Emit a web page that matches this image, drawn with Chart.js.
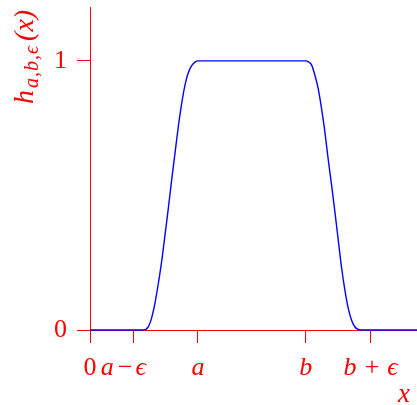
<!DOCTYPE html>
<html>
<head>
<meta charset="utf-8">
<script src="https://cdn.jsdelivr.net/npm/chart.js@4"></script>
<style>
  html, body { margin: 0; padding: 0; background: #fff; }
  #wrap { width: 417px; height: 405px; }
</style>
</head>
<body>
<div id="wrap"><canvas id="bump"></canvas></div>
<script>
// x positions in units where a = 1, b = 2, eps = 0.6
const xValues = [0, 0.40, 0.49, 0.54, 0.571, 0.602, 0.632, 0.664, 0.694, 0.725, 0.756, 0.787, 0.818,
  0.849, 0.880, 0.910, 0.942, 0.979, 1.0, 2.0, 2.021, 2.053, 2.083, 2.114, 2.145, 2.176, 2.206, 2.238,
  2.269, 2.300, 2.330, 2.361, 2.392, 2.422, 2.453, 2.484, 2.516, 3.03];
const hValues = [0, 0, 0, 0.012, 0.045, 0.10, 0.17, 0.255, 0.35, 0.45, 0.555, 0.655, 0.755,
  0.84, 0.91, 0.955, 0.982, 0.997, 1, 1, 0.997, 0.985, 0.948, 0.898, 0.824, 0.737, 0.638, 0.54,
  0.44, 0.335, 0.235, 0.15, 0.082, 0.038, 0.012, 0.002, 0, 0];

const xTickVals = [0, 0.4, 1, 2, 2.6];
// trailing spaces nudge "a - eps" left, away from the 0
const xTickLabels = ["0", "a\u200a\u2212\u200a\u03f5   ", "a", "b", "b + \u03f5"];
const yTickVals = [0, 1];
const yTickLabels = ["0", "1"];

const serif = "'Liberation Serif', 'DejaVu Serif', serif";

function tickFont(ctx) {
  const lbl = ctx.tick ? String(ctx.tick.label) : "";
  return { family: serif, size: 26, style: /^[0-9]$/.test(lbl) ? "normal" : "italic" };
}

// axis names drawn by hand so the subscript works
const axisNames = {
  id: "axisNames",
  afterDraw(chart) {
    const c = chart.ctx;
    c.save();
    c.fillStyle = "red";
    c.textBaseline = "alphabetic";
    c.textAlign = "left";

    c.font = "italic 27px " + serif;
    c.fillText("x", 398, 402);

    c.translate(33, 104);
    c.rotate(-Math.PI / 2);
    let pos = 0;
    c.font = "italic 28px " + serif;
    c.fillText("h", pos, 0);
    pos += c.measureText("h").width + 2;
    c.font = "italic 20px " + serif;
    c.letterSpacing = "1px";
    c.fillText("a,b,\u03f5", pos, 5);
    pos += c.measureText("a,b,\u03f5").width + 4;
    c.letterSpacing = "0px";
    c.font = "italic 28px " + serif;
    c.fillText("(x)", pos, 0);
    c.restore();
  }
};

new Chart("bump", {
  type: "line",
  data: {
    datasets: [{
      data: xValues.map((x, i) => ({ x: x, y: hValues[i] })),
      borderColor: "#0000ff",
      borderWidth: 1.4,
      pointRadius: 0,
      cubicInterpolationMode: "monotone",
      fill: false,
      clip: false
    }]
  },
  options: {
    responsive: true,
    maintainAspectRatio: false,
    animation: false,
    layout: { padding: { top: 7, right: 0, left: 0, bottom: 0 } },
    plugins: { legend: { display: false }, tooltip: { enabled: false } },
    scales: {
      x: {
        type: "linear",
        min: 0,
        max: 3.03,
        border: { color: "red", width: 1 },
        grid: { drawOnChartArea: false, drawTicks: true, tickLength: 13, color: "red" },
        afterBuildTicks: (scale) => { scale.ticks = xTickVals.map(v => ({ value: v })); },
        afterFit: (scale) => {
          scale.height = 75;
          scale.paddingLeft = 0;
          scale.paddingRight = 0;
        },
        ticks: {
          color: "red",
          padding: 10,
          autoSkip: false,
          maxRotation: 0,
          font: tickFont,
          callback: (value, index) => xTickLabels[index]
        }
      },
      y: {
        type: "linear",
        min: 0,
        max: 1.2,
        border: { color: "red", width: 1 },
        grid: { drawOnChartArea: false, drawTicks: true, tickLength: 13, color: "red" },
        afterBuildTicks: (scale) => { scale.ticks = yTickVals.map(v => ({ value: v })); },
        afterFit: (scale) => {
          scale.width = 90;
          scale.paddingTop = 0;
          scale.paddingBottom = 0;
        },
        ticks: {
          color: "red",
          padding: 10,
          font: tickFont,
          callback: (value, index) => yTickLabels[index]
        }
      }
    }
  },
  plugins: [axisNames]
});
</script>
</body>
</html>
